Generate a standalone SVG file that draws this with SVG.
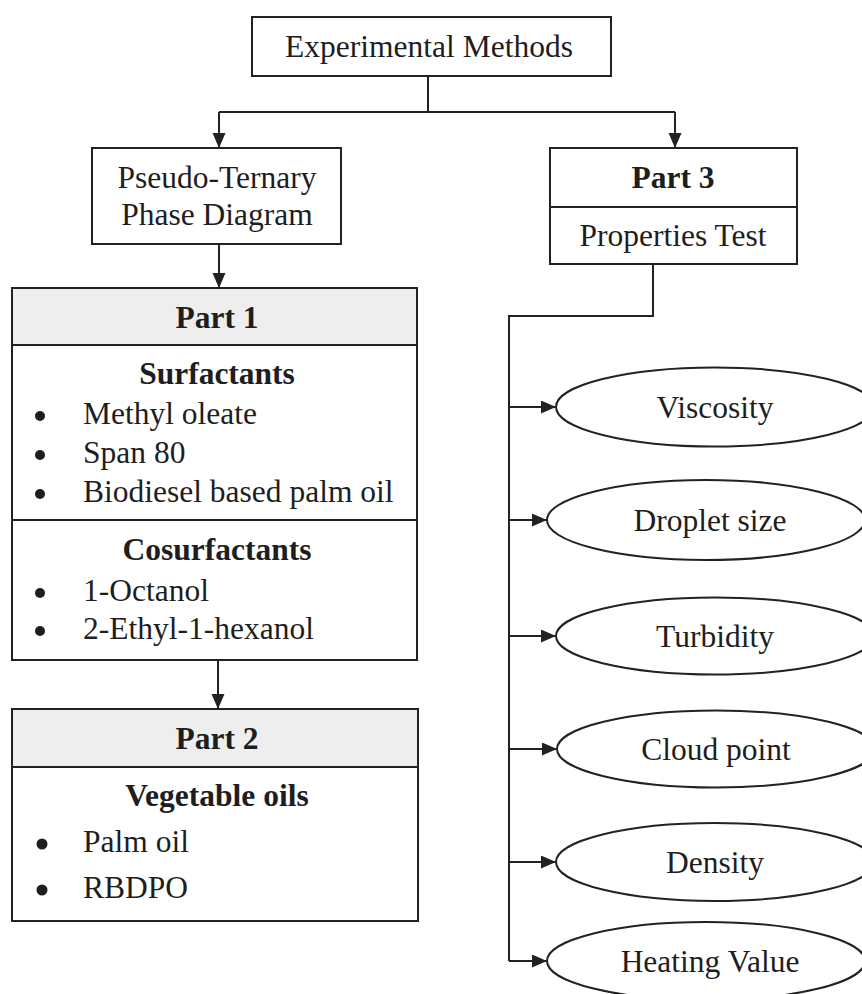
<svg xmlns="http://www.w3.org/2000/svg" width="862" height="994" viewBox="0 0 862 994">
<style>
.box{fill:#fff;stroke:#222;stroke-width:2}
.hdr{fill:#eeeeee;stroke:#222;stroke-width:2}
.t{font-family:"Liberation Serif","Times New Roman",serif;font-size:31.5px;fill:#1e1e1e}
.c{text-anchor:middle}
.b{font-weight:bold}
.ln{fill:none;stroke:#222;stroke-width:2}
.dot{fill:#1e1e1e}
</style>
<defs>
<marker id="arr" markerUnits="userSpaceOnUse" markerWidth="15" markerHeight="14" refX="15" refY="6.5" orient="auto">
<path d="M0,0 L15,6.5 L0,13 z" fill="#222"/>
</marker>
</defs>
<rect width="862" height="994" fill="#fff"/>
<g id="connectors">
<path class="ln" d="M428,76 V112"/>
<path class="ln" d="M219,112 H675"/>
<path class="ln" d="M219,112 V148" marker-end="url(#arr)"/>
<path class="ln" d="M675,112 V148" marker-end="url(#arr)"/>
<path class="ln" d="M219,244 V288" marker-end="url(#arr)"/>
<path class="ln" d="M218,660 V709" marker-end="url(#arr)"/>
<path class="ln" d="M653,264 V316 H509 V961"/>
<path class="ln" d="M509,407 H556" marker-end="url(#arr)"/>
<path class="ln" d="M509,520 H547" marker-end="url(#arr)"/>
<path class="ln" d="M509,636 H556" marker-end="url(#arr)"/>
<path class="ln" d="M509,749 H557" marker-end="url(#arr)"/>
<path class="ln" d="M509,862 H556" marker-end="url(#arr)"/>
<path class="ln" d="M509,961 H547" marker-end="url(#arr)"/>
</g>
<g id="experimental-methods">
<rect class="box" x="252" y="17" width="359" height="59"/>
<text class="t c" x="429" y="57">Experimental Methods</text>
</g>
<g id="pseudo-ternary">
<rect class="box" x="92" y="148" width="249" height="96"/>
<text class="t c" x="217" y="188">Pseudo-Ternary</text>
<text class="t c" x="217" y="225">Phase Diagram</text>
</g>
<g id="part3">
<rect class="box" x="550" y="148" width="247" height="116"/>
<line class="ln" x1="550" y1="207" x2="797" y2="207"/>
<text class="t c b" x="673" y="188">Part 3</text>
<text class="t c" x="673" y="246">Properties Test</text>
</g>
<g id="part1">
<rect class="box" x="12" y="288" width="405" height="372"/>
<rect class="hdr" x="12" y="288" width="405" height="57"/>
<line class="ln" x1="12" y1="520" x2="417" y2="520"/>
<text class="t c b" x="217" y="328">Part 1</text>
<text class="t c b" x="217" y="384">Surfactants</text>
<circle class="dot" cx="40" cy="416" r="5"/>
<text class="t" x="83" y="424">Methyl oleate</text>
<circle class="dot" cx="40" cy="455" r="5"/>
<text class="t" x="83" y="463">Span 80</text>
<circle class="dot" cx="40" cy="494" r="5"/>
<text class="t" x="83" y="502">Biodiesel based palm oil</text>
<text class="t c b" x="217" y="560">Cosurfactants</text>
<circle class="dot" cx="40" cy="593" r="5"/>
<text class="t" x="83" y="601">1-Octanol</text>
<circle class="dot" cx="40" cy="631" r="5"/>
<text class="t" x="83" y="639">2-Ethyl-1-hexanol</text>
</g>
<g id="part2">
<rect class="box" x="12" y="709" width="406" height="212"/>
<rect class="hdr" x="12" y="709" width="406" height="58"/>
<text class="t c b" x="217" y="749">Part 2</text>
<text class="t c b" x="217" y="806">Vegetable oils</text>
<circle class="dot" cx="42" cy="844" r="5.5"/>
<text class="t" x="83" y="852">Palm oil</text>
<circle class="dot" cx="42" cy="890" r="5.5"/>
<text class="t" x="83" y="898">RBDPO</text>
</g>
<g id="viscosity">
<ellipse class="box" cx="715" cy="407" rx="159" ry="39.5"/>
<text class="t c" x="715" y="418">Viscosity</text>
</g>
<g id="droplet-size">
<ellipse class="box" cx="706" cy="520" rx="159" ry="40"/>
<text class="t c" x="710" y="531">Droplet size</text>
</g>
<g id="turbidity">
<ellipse class="box" cx="715" cy="636" rx="159" ry="38.5"/>
<text class="t c" x="715" y="647">Turbidity</text>
</g>
<g id="cloud-point">
<ellipse class="box" cx="716" cy="749" rx="159" ry="38.5"/>
<text class="t c" x="716" y="760">Cloud point</text>
</g>
<g id="density">
<ellipse class="box" cx="715" cy="862" rx="159" ry="39"/>
<text class="t c" x="715" y="873">Density</text>
</g>
<g id="heating-value">
<ellipse class="box" cx="706" cy="961" rx="159" ry="39"/>
<text class="t c" x="710" y="972">Heating Value</text>
</g>
</svg>
